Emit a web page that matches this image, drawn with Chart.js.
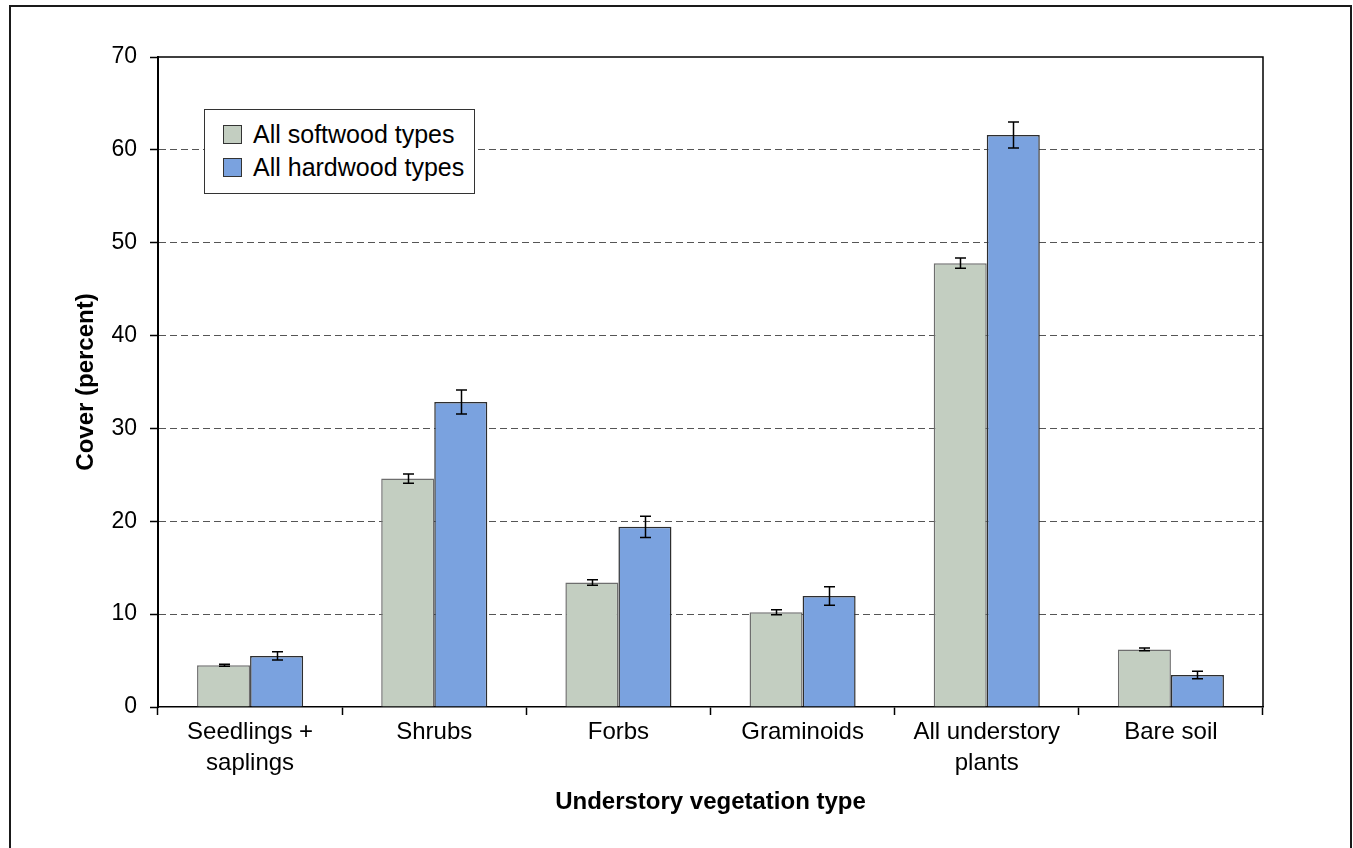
<!DOCTYPE html>
<html>
<head>
<meta charset="utf-8">
<script src="https://cdn.jsdelivr.net/npm/chart.js@4/dist/chart.umd.min.js"></script>
<style>
  html, body { margin: 0; padding: 0; background: #fff; }
  #wrap { position: relative; width: 1353px; height: 848px; }
  #legend {
    position: absolute; left: 204px; top: 109px; width: 271px; height: 85px;
    box-sizing: border-box; border: 1.5px solid #333; background: #fff;
    font: 25px "Liberation Sans", Arial, sans-serif; color: #000;
    padding: 8px 0 0 18px;
  }
  #legend .item { display: flex; align-items: center; height: 33px; }
  #legend .sw { width: 17px; height: 17px; border: 1px solid #333; margin-right: 11px; }
</style>
</head>
<body>
<div id="wrap">
  <canvas id="c" width="1353" height="848"></canvas>
  <div id="legend"></div>
</div>
<script>
var categories = [['Seedlings +', 'saplings'], 'Shrubs', 'Forbs', 'Graminoids', ['All understory', 'plants'], 'Bare soil'];
var softwood = [4.5, 24.6, 13.4, 10.2, 47.8, 6.2];
var softwoodErr = [0.1, 0.5, 0.3, 0.27, 0.55, 0.15];
var hardwood = [5.5, 32.85, 19.4, 11.95, 61.6, 3.45];
var hardwoodErr = [0.45, 1.3, 1.15, 1.0, 1.4, 0.4];
var yTicks = [0, 10, 20, 30, 40, 50, 60, 70];

var FONT = '"Liberation Sans", Arial, sans-serif';

// whisker for each bar, drawn from the dataset's err array
var errorBars = {
  id: 'errorBars',
  afterDatasetsDraw: function (chart) {
    var ctx = chart.ctx, y = chart.scales.y;
    ctx.save();
    ctx.strokeStyle = '#000';
    ctx.lineWidth = 1.5;
    chart.data.datasets.forEach(function (ds, di) {
      var meta = chart.getDatasetMeta(di);
      meta.data.forEach(function (bar, i) {
        var v = ds.data[i], e = ds.err[i];
        var top = y.getPixelForValue(v + e), bot = y.getPixelForValue(v - e);
        var cx = Math.round(bar.x) + 0.5, w = 5.5;
        ctx.beginPath();
        ctx.moveTo(cx, top); ctx.lineTo(cx, bot);
        ctx.moveTo(cx - w, top); ctx.lineTo(cx + w, top);
        ctx.moveTo(cx - w, bot); ctx.lineTo(cx + w, bot);
        ctx.stroke();
      });
    });
    ctx.restore();
  }
};

// plot box top/right edges and the outer frame
var frames = {
  id: 'frames',
  afterDraw: function (chart) {
    var ctx = chart.ctx, a = chart.chartArea;
    ctx.save();
    ctx.strokeStyle = '#000';
    ctx.lineWidth = 1.5;
    ctx.beginPath();
    ctx.moveTo(a.left, a.top); ctx.lineTo(a.right, a.top); ctx.lineTo(a.right, a.bottom);
    ctx.stroke();
    ctx.strokeStyle = '#1a1a1a';
    ctx.lineWidth = 2;
    ctx.beginPath();
    ctx.moveTo(10, 900); ctx.lineTo(10, 6); ctx.lineTo(1351, 6); ctx.lineTo(1351, 900);
    ctx.stroke();
    ctx.restore();
  }
};

var chart = new Chart(document.getElementById('c'), {
  type: 'bar',
  data: {
    labels: categories,
    datasets: [
      { label: 'All softwood types', data: softwood, err: softwoodErr,
        backgroundColor: '#C3CEC1', borderColor: '#6e6e6e', borderWidth: 1.5,
        barPercentage: 1, categoryPercentage: 0.576 },
      { label: 'All hardwood types', data: hardwood, err: hardwoodErr,
        backgroundColor: '#7AA2DF', borderColor: '#2e2e2e', borderWidth: 1.5,
        barPercentage: 1, categoryPercentage: 0.576 }
    ]
  },
  options: {
    responsive: false,
    animation: false,
    layout: { padding: { left: 0, top: 57, right: 90, bottom: 0 } },
    plugins: { legend: { display: false }, tooltip: { enabled: false } },
    scales: {
      x: {
        afterFit: function (s) { s.height = 141; },
        grid: { offset: true, drawOnChartArea: false, tickLength: 8, tickColor: '#000', tickWidth: 1.5 },
        border: { display: true, color: '#000', width: 1.5 },
        ticks: { color: '#000', padding: 2, font: { family: FONT, size: 24, lineHeight: 1.3 }, maxRotation: 0, autoSkip: false },
        title: { display: true, text: 'Understory vegetation type', color: '#000',
                 font: { family: FONT, size: 24, weight: 'bold' }, padding: { top: 0, bottom: 31 } }
      },
      y: {
        min: 0, max: 70,
        afterFit: function (s) { s.width = 158; },
        afterBuildTicks: function (s) { s.ticks = yTicks.map(function (v) { return { value: v }; }); },
        grid: {
          color: function (c) { return (c.tick && (c.tick.value === 0 || c.tick.value === 70)) ? 'rgba(0,0,0,0)' : '#555'; },
          lineWidth: 1, tickLength: 8, tickColor: '#000', tickWidth: 1.5, tickBorderDash: []
        },
        border: { display: true, color: '#000', width: 2, dash: [7, 4] },
        ticks: { color: '#000', padding: 13, font: { family: FONT, size: 23 } },
        title: { display: true, text: 'Cover (percent)', color: '#000',
                 font: { family: FONT, size: 24, weight: 'bold' }, padding: { top: 72, bottom: 0 } }
      }
    }
  },
  plugins: [errorBars, frames]
});

// legend box built from the datasets
var leg = document.getElementById('legend');
chart.data.datasets.forEach(function (ds) {
  var row = document.createElement('div');
  row.className = 'item';
  var sw = document.createElement('span');
  sw.className = 'sw';
  sw.style.background = ds.backgroundColor;
  row.appendChild(sw);
  row.appendChild(document.createTextNode(ds.label));
  leg.appendChild(row);
});
</script>
</body>
</html>
